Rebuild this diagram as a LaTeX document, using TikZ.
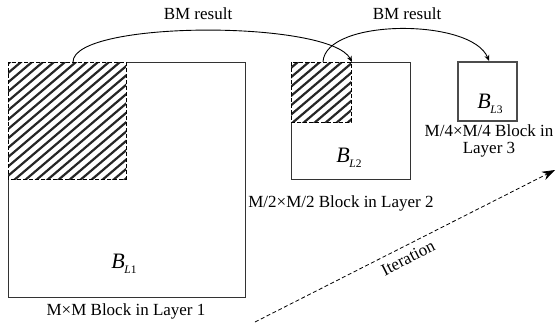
\documentclass[tikz,border=0pt]{standalone}
\usepackage{fontspec}
\setmainfont{Liberation Serif}
\usetikzlibrary{arrows.meta}
\newcommand\BLab[1]{{\fontsize{22}{22}\selectfont\textit{B}}\kern-0.5pt\raisebox{-4.5pt}{\fontsize{11.5}{11.5}\selectfont\textit{L}#1}}
\tikzset{
  boxline/.style={draw=black!80, line width=1pt},
  dashbox/.style={draw=black, line width=1pt, dash pattern=on 4pt off 2pt},
  hatch/.style={draw=black!85, line width=2.2pt},
  curvearrow/.style={draw=black, line width=0.9pt, -{Stealth[length=6pt,width=5pt]}},
  iterarrow/.style={draw=black, line width=0.8pt, dash pattern=on 4pt off 2.5pt, -{Stealth[length=13pt,width=9pt]}},
  lab/.style={inner sep=0pt, font=\fontsize{17}{17}\selectfont},
}
\begin{document}
\begin{tikzpicture}[x=1pt,y=-1pt]
\useasboundingbox (0,0) rectangle (557,325);
% Block 1 (solid part of outline)
\draw[boxline] (126,62) -- (245,62) -- (245,297) -- (8,297) -- (8,179);
% Block 1 hatched region
\begin{scope}
  \clip (8,62) rectangle (126,179);
  \foreach \i in {0,...,26} \draw[hatch] ({-152+\i*11},181) -- ++(200,-170);
\end{scope}
\draw[dashbox] (8,62) rectangle (126,179);
% Block 2
\draw[boxline] (351,62) -- (410,62) -- (410,179) -- (291,179) -- (291,122);
\begin{scope}
  \clip (291,62) rectangle (351,122);
  \foreach \i in {0,...,14} \draw[hatch] ({-80+\i*11+283},124) -- ++(200,-170);
\end{scope}
\draw[dashbox] (291,62) rectangle (351,122);
% Block 3
\draw[draw=black!70, line width=1.1pt] (458,62) rectangle (517,121);
% curve end points
\coordinate (h1) at (73,62);
\coordinate (t2) at (352,62);
\coordinate (h2) at (323,62);
\coordinate (t3) at (489,61);
\coordinate (itS) at (255,322);
\coordinate (itE) at (555,170);
% BM result arrows
\draw[curvearrow] (h1) .. controls (73,20) and (330,20) .. (t2);
\draw[curvearrow] (h2) .. controls (325,18) and (472,18) .. (t3);
\node[lab] (bm1) at (198,14) {BM result};
\node[lab] (bm2) at (407,14) {BM result};
% block labels
\node[inner sep=0pt] (bl1) at (124,264) {\BLab{1}};
\node[inner sep=0pt] (bl2) at (349,158) {\BLab{2}};
\node[inner sep=0pt] (bl3) at (490,104) {\BLab{3}};
\node[lab] (c1) at (126,311) {M×M Block in Layer 1};
\node[lab] (c2) at (341,203) {M/2×M/2 Block in Layer 2};
\node[lab, align=center, font=\fontsize{17}{17}\selectfont] (c3) at (489,141) {M/4×M/4 Block in\\Layer 3};
% iteration
\draw[iterarrow] (itS) -- (itE);
\node[lab, rotate=27] (it) at (408,258) {Iteration};
\end{tikzpicture}
\end{document}
